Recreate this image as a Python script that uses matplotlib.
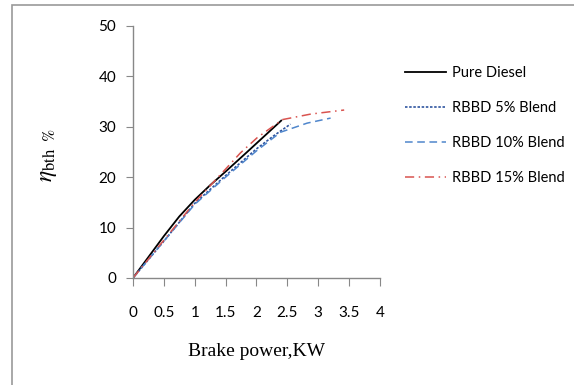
import matplotlib
matplotlib.use("Agg")
import matplotlib.pyplot as plt
from matplotlib.patches import Rectangle

# brake power (kW) and brake thermal efficiency (%) per fuel
x_diesel = [0, 0.5, 0.75, 1.0, 1.25, 1.5, 1.85, 2.4]
y_diesel = [0, 8.3, 12.2, 15.5, 18.4, 21.1, 25.0, 31.2]

x_b5 = [0, 0.5, 1.0, 1.5, 2.0, 2.28, 2.55]
y_b5 = [0, 7.3, 14.8, 20.3, 25.6, 28.2, 30.5]

x_b10 = [0, 0.5, 1.0, 1.5, 2.0, 2.39, 2.82, 3.2]
y_b10 = [0, 7.3, 14.6, 20.0, 25.2, 28.9, 30.7, 31.7]

x_b15 = [0, 0.5, 1.0, 1.5, 1.74, 2.01, 2.42, 2.88, 3.42]
y_b15 = [0, 7.5, 15.0, 21.6, 24.8, 27.8, 31.4, 32.5, 33.3]

labels = ["Pure Diesel", "RBBD 5% Blend", "RBBD 10% Blend", "RBBD 15% Blend"]
xticks = [0, 0.5, 1, 1.5, 2, 2.5, 3, 3.5, 4]
yticks = [0, 10, 20, 30, 40, 50]

plt.rcParams['font.family'] = ['Lato', 'DejaVu Sans']
plt.rcParams['mathtext.fontset'] = 'stix'

fig = plt.figure(figsize=(5.74, 3.85), dpi=100)
ax = fig.add_axes([0.2317, 0.278, 0.4303, 0.655])

ax.plot(x_diesel, y_diesel, color="black", lw=1.3, ls="-", label=labels[0])
ax.plot(x_b5, y_b5, color="#2f55a0", lw=1.2, ls=(0, (1.5, 1)), label=labels[1])
ax.plot(x_b10, y_b10, color="#4f86cc", lw=1.1, ls=(0, (5, 3)), label=labels[2])
ax.plot(x_b15, y_b15, color="#d9534f", lw=1.1, ls=(0, (6, 3, 1, 3)), label=labels[3])

ax.set_xlim(0, 4)
ax.set_ylim(0, 50)
ax.set_xticks(xticks)
ax.set_xticklabels([f"{t:g}" for t in xticks])
ax.set_yticks(yticks)

for s in ["top", "right"]:
    ax.spines[s].set_visible(False)
for s in ["left", "bottom"]:
    ax.spines[s].set_color("#888888")
    ax.spines[s].set_linewidth(1.0)

ax.tick_params(axis="x", direction="out", length=6, color="#888888", pad=14.5, labelsize=11)
ax.tick_params(axis="y", direction="out", length=5, color="#888888", pad=7, labelsize=11)

ax.set_xlabel("Brake power,KW", family="Liberation Serif", fontsize=14, labelpad=16)
fig.text(0.085, 0.597, r"$\eta_{\mathrm{bth}\ \ \%}$", rotation=90,
         fontsize=17, ha="center", va="center")

fig.legend(loc="upper left", bbox_to_anchor=(0.7056, 0.829), frameon=False,
           fontsize=10.5, handlelength=2.8, handletextpad=0.4, labelspacing=1.44,
           borderpad=0, borderaxespad=0)

# outer chart border (cropped at right and bottom)
fig.patches.append(Rectangle((12 / 574, -0.1), 1.2, 1.1 - 5 / 385, transform=fig.transFigure,
                             fill=False, edgecolor="#999999", lw=1.2))

fig.savefig("out.png", dpi=100)
